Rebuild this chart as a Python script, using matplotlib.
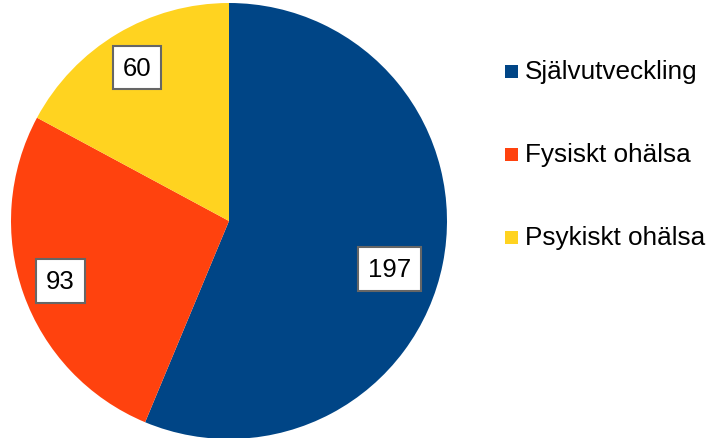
import matplotlib
matplotlib.use("Agg")
import matplotlib.pyplot as plt
import numpy as np
from matplotlib.patches import Rectangle

categories = ["Självutveckling", "Fysiskt ohälsa", "Psykiskt ohälsa"]
values = [197, 93, 60]
colors = ["#004586", "#ff420e", "#ffd320"]
label_dist = [0.77, 0.82, 0.82]
label_shift_px = [(-4, -15), (0, 0), (0, 0)]

plt.rcParams['font.family'] = ['Liberation Sans', 'DejaVu Sans']

W, H = 723, 439
fig = plt.figure(figsize=(W/100, H/100), dpi=100)
cx, cy, r = 229, 222, 218
ax = fig.add_axes([(cx - r)/W, (H - cy - r)/H, 2*r/W, 2*r/H])
ax.pie(values, colors=colors, startangle=90, counterclock=False, radius=1,
       wedgeprops=dict(linewidth=0))
ax.set_xlim(-1, 1); ax.set_ylim(-1, 1)
ax.set_aspect('equal')
ax.axis('off')

total = sum(values)
start = 90.0
for v, d, (sx, sy) in zip(values, label_dist, label_shift_px):
    span = v / total * 360
    mid = np.deg2rad(start - span/2)
    start -= span
    ax.annotate(str(v), xy=(d*np.cos(mid), d*np.sin(mid)), xycoords='data',
                xytext=(sx*0.72, sy*0.72), textcoords='offset points',
                ha='center', va='center', fontsize=18.5, color='black',
                bbox=dict(boxstyle='square,pad=0.38', fc='white', ec='#666666', lw=1.5))

# legend
ys = [72, 155, 238]
for lab, col, y in zip(categories, colors, ys):
    fig.patches.append(Rectangle(((505)/W, (H - y - 6.5)/H), 13/W, 13/H,
                                 transform=fig.transFigure, fc=col, ec='none'))
    fig.text(525/W, (H - y)/H, lab, ha='left', va='center', fontsize=18.8)

fig.savefig("out.png", dpi=100)
